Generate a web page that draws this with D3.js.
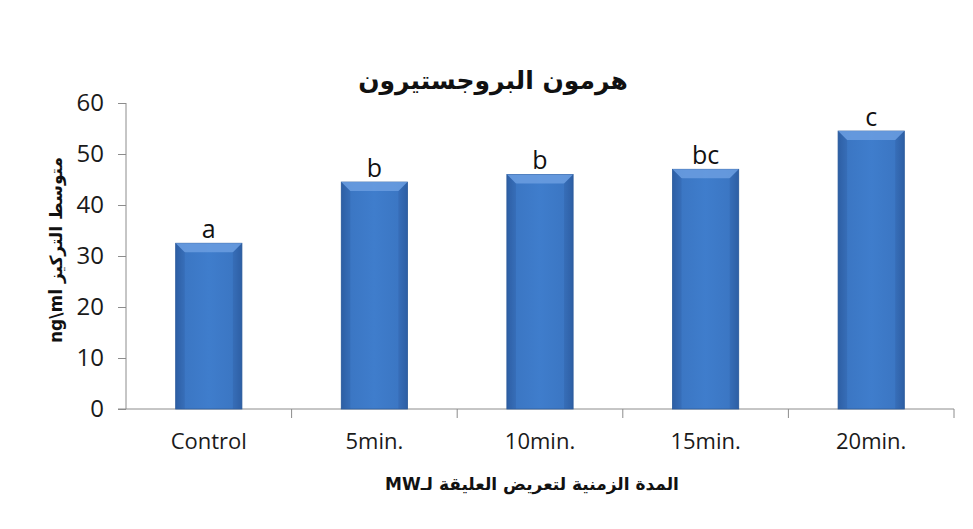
<!DOCTYPE html>
<html lang="ar">
<head>
  <meta charset="UTF-8">
  <title>هرمون البروجستيرون</title>
  <script src="https://d3js.org/d3.v7.min.js"></script>
  <style>
    body { margin: 0; background: #fff; }
    svg { display: block; }
  </style>
</head>
<body>
  <svg width="973" height="529"></svg>
  <script>
    // data
    const categories = ["Control", "5min.", "10min.", "15min.", "20min."];
    const values = [32.5, 44.5, 46, 47, 54.5];
    const letters = ["a", "b", "b", "bc", "c"];
    const yTicks = [0, 10, 20, 30, 40, 50, 60];

    const svg = d3.select("svg");
    const latin = "'Open Sans', Lato, sans-serif";
    const arabic = "'DejaVu Sans', 'Noto Sans', sans-serif";

    const x = d3.scaleBand().domain(categories).range([126, 954]).padding(0);
    const y = d3.scaleLinear().domain([0, 60]).range([409, 103]);
    const barW = x.bandwidth() * 0.4;

    // bar gradient (rounded bevel look)
    const defs = svg.append("defs");
    const grad = defs.append("linearGradient").attr("id", "barGrad")
      .attr("x1", 0).attr("x2", 1).attr("y1", 0).attr("y2", 0);
    grad.append("stop").attr("offset", "0%").attr("stop-color", "#2f63aa");
    grad.append("stop").attr("offset", "12%").attr("stop-color", "#3b76c3");
    grad.append("stop").attr("offset", "50%").attr("stop-color", "#3f7dcc");
    grad.append("stop").attr("offset", "88%").attr("stop-color", "#3b76c3");
    grad.append("stop").attr("offset", "100%").attr("stop-color", "#2f63aa");

    // axes
    const yAxis = svg.append("g")
      .attr("transform", "translate(126,0)")
      .call(d3.axisLeft(y).tickValues(yTicks).tickSize(8).tickPadding(14));
    yAxis.select(".domain").attr("stroke", "#8c8c8c").attr("d", `M0,${y(60)}V${y(0)}`);
    yAxis.selectAll(".tick line").attr("stroke", "#8c8c8c");
    yAxis.selectAll(".tick text")
      .attr("font-family", latin).attr("font-size", 24).attr("fill", "#1a1a1a");

    const xAxis = svg.append("g")
      .attr("transform", `translate(0,${y(0)})`)
      .call(d3.axisBottom(x).tickSize(0).tickPadding(24));
    xAxis.select(".domain").attr("stroke", "#8c8c8c").attr("d", "M118,0H954");
    xAxis.selectAll(".tick text")
      .attr("font-family", latin).attr("font-size", 22).attr("fill", "#1a1a1a");
    // boundary tick marks between categories
    xAxis.selectAll(".sep")
      .data(categories)
      .enter().append("line")
      .attr("class", "sep")
      .attr("x1", d => x(d) + x.bandwidth()).attr("x2", d => x(d) + x.bandwidth())
      .attr("y1", 0).attr("y2", 9)
      .attr("stroke", "#8c8c8c");

    // bars
    const bars = svg.append("g").selectAll("g.bar")
      .data(categories)
      .enter().append("g").attr("class", "bar");

    bars.append("rect")
      .attr("x", d => x(d) + (x.bandwidth() - barW) / 2)
      .attr("y", (d, i) => y(values[i]))
      .attr("width", barW)
      .attr("height", (d, i) => y(0) - y(values[i]))
      .attr("fill", "url(#barGrad)")
      .attr("stroke", "#2d5c9c")
      .attr("stroke-width", 0.8);

    // top bevel highlight
    const bev = 9;
    bars.append("path")
      .attr("d", (d, i) => {
        const x0 = x(d) + (x.bandwidth() - barW) / 2, x1 = x0 + barW, t = y(values[i]);
        return `M${x0},${t}H${x1}L${x1 - bev},${t + bev}H${x0 + bev}Z`;
      })
      .attr("fill", "#6b9ee0").attr("opacity", 0.85);
    bars.append("path")
      .attr("d", (d, i) => {
        const x0 = x(d) + (x.bandwidth() - barW) / 2, t = y(values[i]);
        return `M${x0},${t}L${x0 + bev},${t + bev}V${y(0)}H${x0}Z`;
      })
      .attr("fill", "#2a5799").attr("opacity", 0.3);
    bars.append("path")
      .attr("d", (d, i) => {
        const x1 = x(d) + (x.bandwidth() + barW) / 2, t = y(values[i]);
        return `M${x1},${t}L${x1 - bev},${t + bev}V${y(0)}H${x1}Z`;
      })
      .attr("fill", "#2a5799").attr("opacity", 0.3);

    // significance letters
    bars.append("text")
      .attr("x", d => x(d) + x.bandwidth() / 2)
      .attr("y", (d, i) => y(values[i]) - 5)
      .attr("text-anchor", "middle")
      .attr("font-family", latin).attr("font-size", 25).attr("fill", "#111")
      .text((d, i) => letters[i]);

    // title
    svg.append("text")
      .attr("x", 493).attr("y", 89)
      .attr("text-anchor", "middle")
      .attr("font-family", arabic).attr("font-weight", "bold").attr("font-size", 25)
      .attr("fill", "#111")
      .text("هرمون البروجستيرون");

    // y axis title
    svg.append("text")
      .attr("transform", "translate(62,250) rotate(-90)")
      .attr("text-anchor", "middle")
      .attr("font-family", arabic).attr("font-weight", "bold").attr("font-size", 17)
      .attr("fill", "#111")
      .text("ng\\ml متوسط التركيز");

    // x axis title
    svg.append("text")
      .attr("x", 532).attr("y", 490)
      .attr("text-anchor", "middle")
      .style("direction", "rtl")
      .attr("font-family", arabic).attr("font-weight", "bold").attr("font-size", 17)
      .attr("fill", "#111")
      .text("المدة الزمنية لتعريض العليقة لـMW");
  </script>
</body>
</html>
